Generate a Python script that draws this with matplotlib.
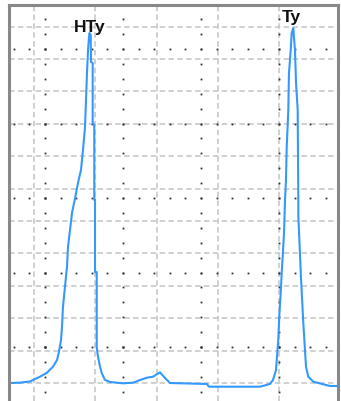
import numpy as np
import matplotlib
matplotlib.use("Agg")
import matplotlib.pyplot as plt

# chromatogram trace (retention time in min, signal in mAU)
rt = [0.624, 0.771, 0.935, 1.016, 1.098, 1.212, 1.310, 1.376, 1.408, 1.441,
      1.457, 1.473, 1.506, 1.539, 1.555, 1.588, 1.620, 1.670, 1.718, 1.767,
      1.800, 1.833, 1.849, 1.865, 1.882, 1.898, 1.906, 1.926, 1.931, 1.958,
      1.958, 1.984, 1.984, 1.996, 1.996, 2.024, 2.024, 2.040, 2.078, 2.105,
      2.159, 2.241, 2.404, 2.453, 2.616, 2.731, 2.845, 2.943, 3.057, 3.139,
      3.220, 3.824, 3.857, 4.690, 4.853, 4.902, 4.951, 4.967, 4.988, 5.004,
      5.028, 5.044, 5.060, 5.082, 5.098, 5.114, 5.126, 5.152, 5.163, 5.191,
      5.207, 5.233, 5.250, 5.261, 5.278, 5.305, 5.315, 5.315, 5.359, 5.397,
      5.424, 5.441, 5.478, 5.560, 5.723, 5.833, 5.931]
signal = [0.0, 0.1, 0.46, 1.23, 1.94, 3.18, 5.03, 7.10, 9.66, 13.27,
          17.38, 23.55, 29.72, 35.90, 42.07, 47.22, 52.47, 57.0, 61.73, 65.74,
          71.91, 79.01, 87.35, 95.68, 102.78, 106.79, 108.02, 107.41, 99.07, 98.77,
          80.25, 79.63, 56.48, 56.48, 34.26, 34.26, 11.11, 8.64, 5.03, 3.09,
          0.93, 0.31, 0.0, -0.09, 0.09, 0.93, 1.64, 1.94, 3.30, 1.54,
          0.0, -0.31, -1.14, -1.14, -0.31, 0.93, 4.01, 8.12, 13.27, 20.46,
          27.78, 33.95, 38.98, 46.30, 56.48, 62.65, 72.84, 84.26, 95.68, 102.78,
          108.02, 109.57, 105.25, 102.78, 92.59, 84.26, 57.41, 51.85, 32.41, 18.52,
          10.19, 5.03, 1.94, 0.40, -0.40, -0.93, -0.93]

peak_names = ["HTy", "Ty"]
peak_label_rt = [1.906, 5.20]
peak_label_y = [108.3, 111.4]

# screen-style dotted grid (major lines, dots at 1/5 division)
dot_cols = [1.180, 2.4535, 3.727, 5.0005]
dot_rows = [11.11, 34.10, 57.09, 80.08, 103.07]

W, H = 341, 401
fig = plt.figure(figsize=(W / 100, H / 100), dpi=100)
left, right, top = 9.0, 337.5, 5.0
ax = fig.add_axes([left / W, 0, (right - left) / W, (H - top) / H])

xmin = 1 + (left - 34) / 61.25
xmax = 1 + (right - 34) / 61.25
ymin = (383 - H) / 3.24
ymax = (383 - top) / 3.24

ax.set_xticks(np.arange(1, 6))
ax.set_yticks(np.arange(0, 120, 10))
ax.grid(True, color="#c4c4c4", linewidth=1.1, linestyle=(0, (3.6, 2.2)), zorder=0)
ax.set_axisbelow(True)
ax.tick_params(length=0, labelbottom=False, labelleft=False)

# dotted grid
dx = 1.2735 / 5
dy = 22.99 / 5
for yr in dot_rows:
    xs = np.concatenate([np.arange(dot_cols[0], xmin, -dx), np.arange(dot_cols[0], xmax, dx)])
    ax.plot(xs, np.full(len(xs), yr), ls="none", marker="s", ms=1.3, mew=0,
            color="#303030", zorder=1)
for xc in dot_cols:
    ys = np.concatenate([np.arange(dot_rows[0], ymin, -dy), np.arange(dot_rows[0], ymax, dy)])
    ax.plot(np.full(len(ys), xc), ys, ls="none", marker="s", ms=1.3, mew=0,
            color="#303030", zorder=1)

ax.plot(rt, signal, color="#3399ff", linewidth=1.5, zorder=2)

for name, x, y in zip(peak_names, peak_label_rt, peak_label_y):
    ax.text(x, y, name, ha="center", va="baseline", fontsize=12.5,
            fontweight="bold", family="Liberation Sans", color="#111111", zorder=3)

ax.set_xlim(xmin, xmax)
ax.set_ylim(ymin, ymax)
for s in ["left", "top", "right"]:
    ax.spines[s].set_color("#888888")
    ax.spines[s].set_linewidth(2.2)
ax.spines["bottom"].set_visible(False)

fig.savefig("out.png", dpi=100)
